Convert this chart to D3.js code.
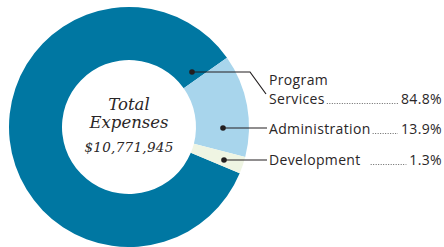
<!DOCTYPE html>
<html lang="en">
<head>
    <meta charset="utf-8">
    <title>Total Expenses</title>
    <script src="https://d3js.org/d3.v7.min.js"></script>
    <style>
        body {
            margin: 0;
            background: #ffffff;
        }
        svg {
            display: block;
        }
        .label {
            font-family: "Open Sans", sans-serif;
            font-size: 14px;
            letter-spacing: 0.35px;
            fill: #2a2627;
        }
        .center-title {
            font-family: "DejaVu Serif", serif;
            font-style: italic;
            font-size: 16.5px;
            fill: #2a2627;
            text-anchor: middle;
        }
        .center-amount {
            font-family: "DejaVu Serif", serif;
            font-style: italic;
            font-size: 13.5px;
            letter-spacing: 0.3px;
            fill: #2a2627;
            text-anchor: middle;
        }
    </style>
</head>
<body>
    <svg id="chart" width="444" height="247"></svg>
    <script>
        // values as printed, and slice sizes as drawn in the picture
        const categories = ['Program Services', 'Administration', 'Development'];
        const labelLines = [['Program', 'Services'], ['Administration'], ['Development']];
        const percents = ['84.8%', '13.9%', '1.3%'];
        const sliceShares = [83.9, 13.8, 2.3];
        const colors = ['#0077a2', '#a8d5ec', '#eff5e3'];
        const totalAmount = '$10,771,945';

        const cx = 129, cy = 127;
        const outerR = 120, innerR = 67;
        const startDeg = 112.7;

        const svg = d3.select('#chart');

        const pie = d3.pie()
            .sort(null)
            .value(d => d)
            .startAngle(startDeg * Math.PI / 180)
            .endAngle(startDeg * Math.PI / 180 + 2 * Math.PI);

        const arc = d3.arc()
            .innerRadius(innerR)
            .outerRadius(outerR);

        const g = svg.append('g')
            .attr('transform', `translate(${cx},${cy})`);

        g.selectAll('path')
            .data(pie(sliceShares))
            .enter().append('path')
            .attr('d', arc)
            .attr('fill', (d, i) => colors[i]);

        // center text
        g.append('text').attr('class', 'center-title')
            .attr('x', 0).attr('y', -17).text('Total');
        g.append('text').attr('class', 'center-title')
            .attr('x', 0).attr('y', 1).text('Expenses');
        g.append('text').attr('class', 'center-amount')
            .attr('x', 0).attr('y', 25).text(totalAmount);

        // leader lines: dot inside slice, elbow to the label column
        const textX = 269;
        const rightX = 442;
        const leaders = [
            { dot: [192, 72], path: [[192, 72], [250, 72], [266, 94]], baselines: [85, 104], gap: 0 },
            { dot: [223, 128], path: [[223, 128], [267, 128]], baselines: [134], gap: 0 },
            { dot: [224, 160], path: [[224, 160], [267, 160]], baselines: [165], gap: 8 }
        ];

        const line = d3.line();

        leaders.forEach((ld, i) => {
            svg.append('path')
                .attr('d', line(ld.path))
                .attr('fill', 'none')
                .attr('stroke', '#231f20')
                .attr('stroke-width', 1.2);
            svg.append('circle')
                .attr('cx', ld.dot[0]).attr('cy', ld.dot[1])
                .attr('r', 2.8)
                .attr('fill', '#231f20');

            let lastText;
            labelLines[i].forEach((t, j) => {
                lastText = svg.append('text')
                    .attr('class', 'label')
                    .attr('x', textX)
                    .attr('y', ld.baselines[j])
                    .text(t);
            });

            const lastY = ld.baselines[ld.baselines.length - 1];
            const pct = svg.append('text')
                .attr('class', 'label')
                .attr('x', rightX)
                .attr('y', lastY)
                .attr('text-anchor', 'end')
                .text(percents[i]);

            // dotted leader between name and percent
            const nameEnd = textX + lastText.node().getComputedTextLength() + 2;
            const pctStart = rightX - pct.node().getComputedTextLength() - 3;
            svg.append('line')
                .attr('x1', nameEnd + ld.gap).attr('x2', pctStart)
                .attr('y1', lastY - 0.5).attr('y2', lastY - 0.5)
                .attr('stroke', '#666')
                .attr('stroke-width', 1)
                .attr('stroke-dasharray', '1,1.5');
        });
    </script>
</body>
</html>
